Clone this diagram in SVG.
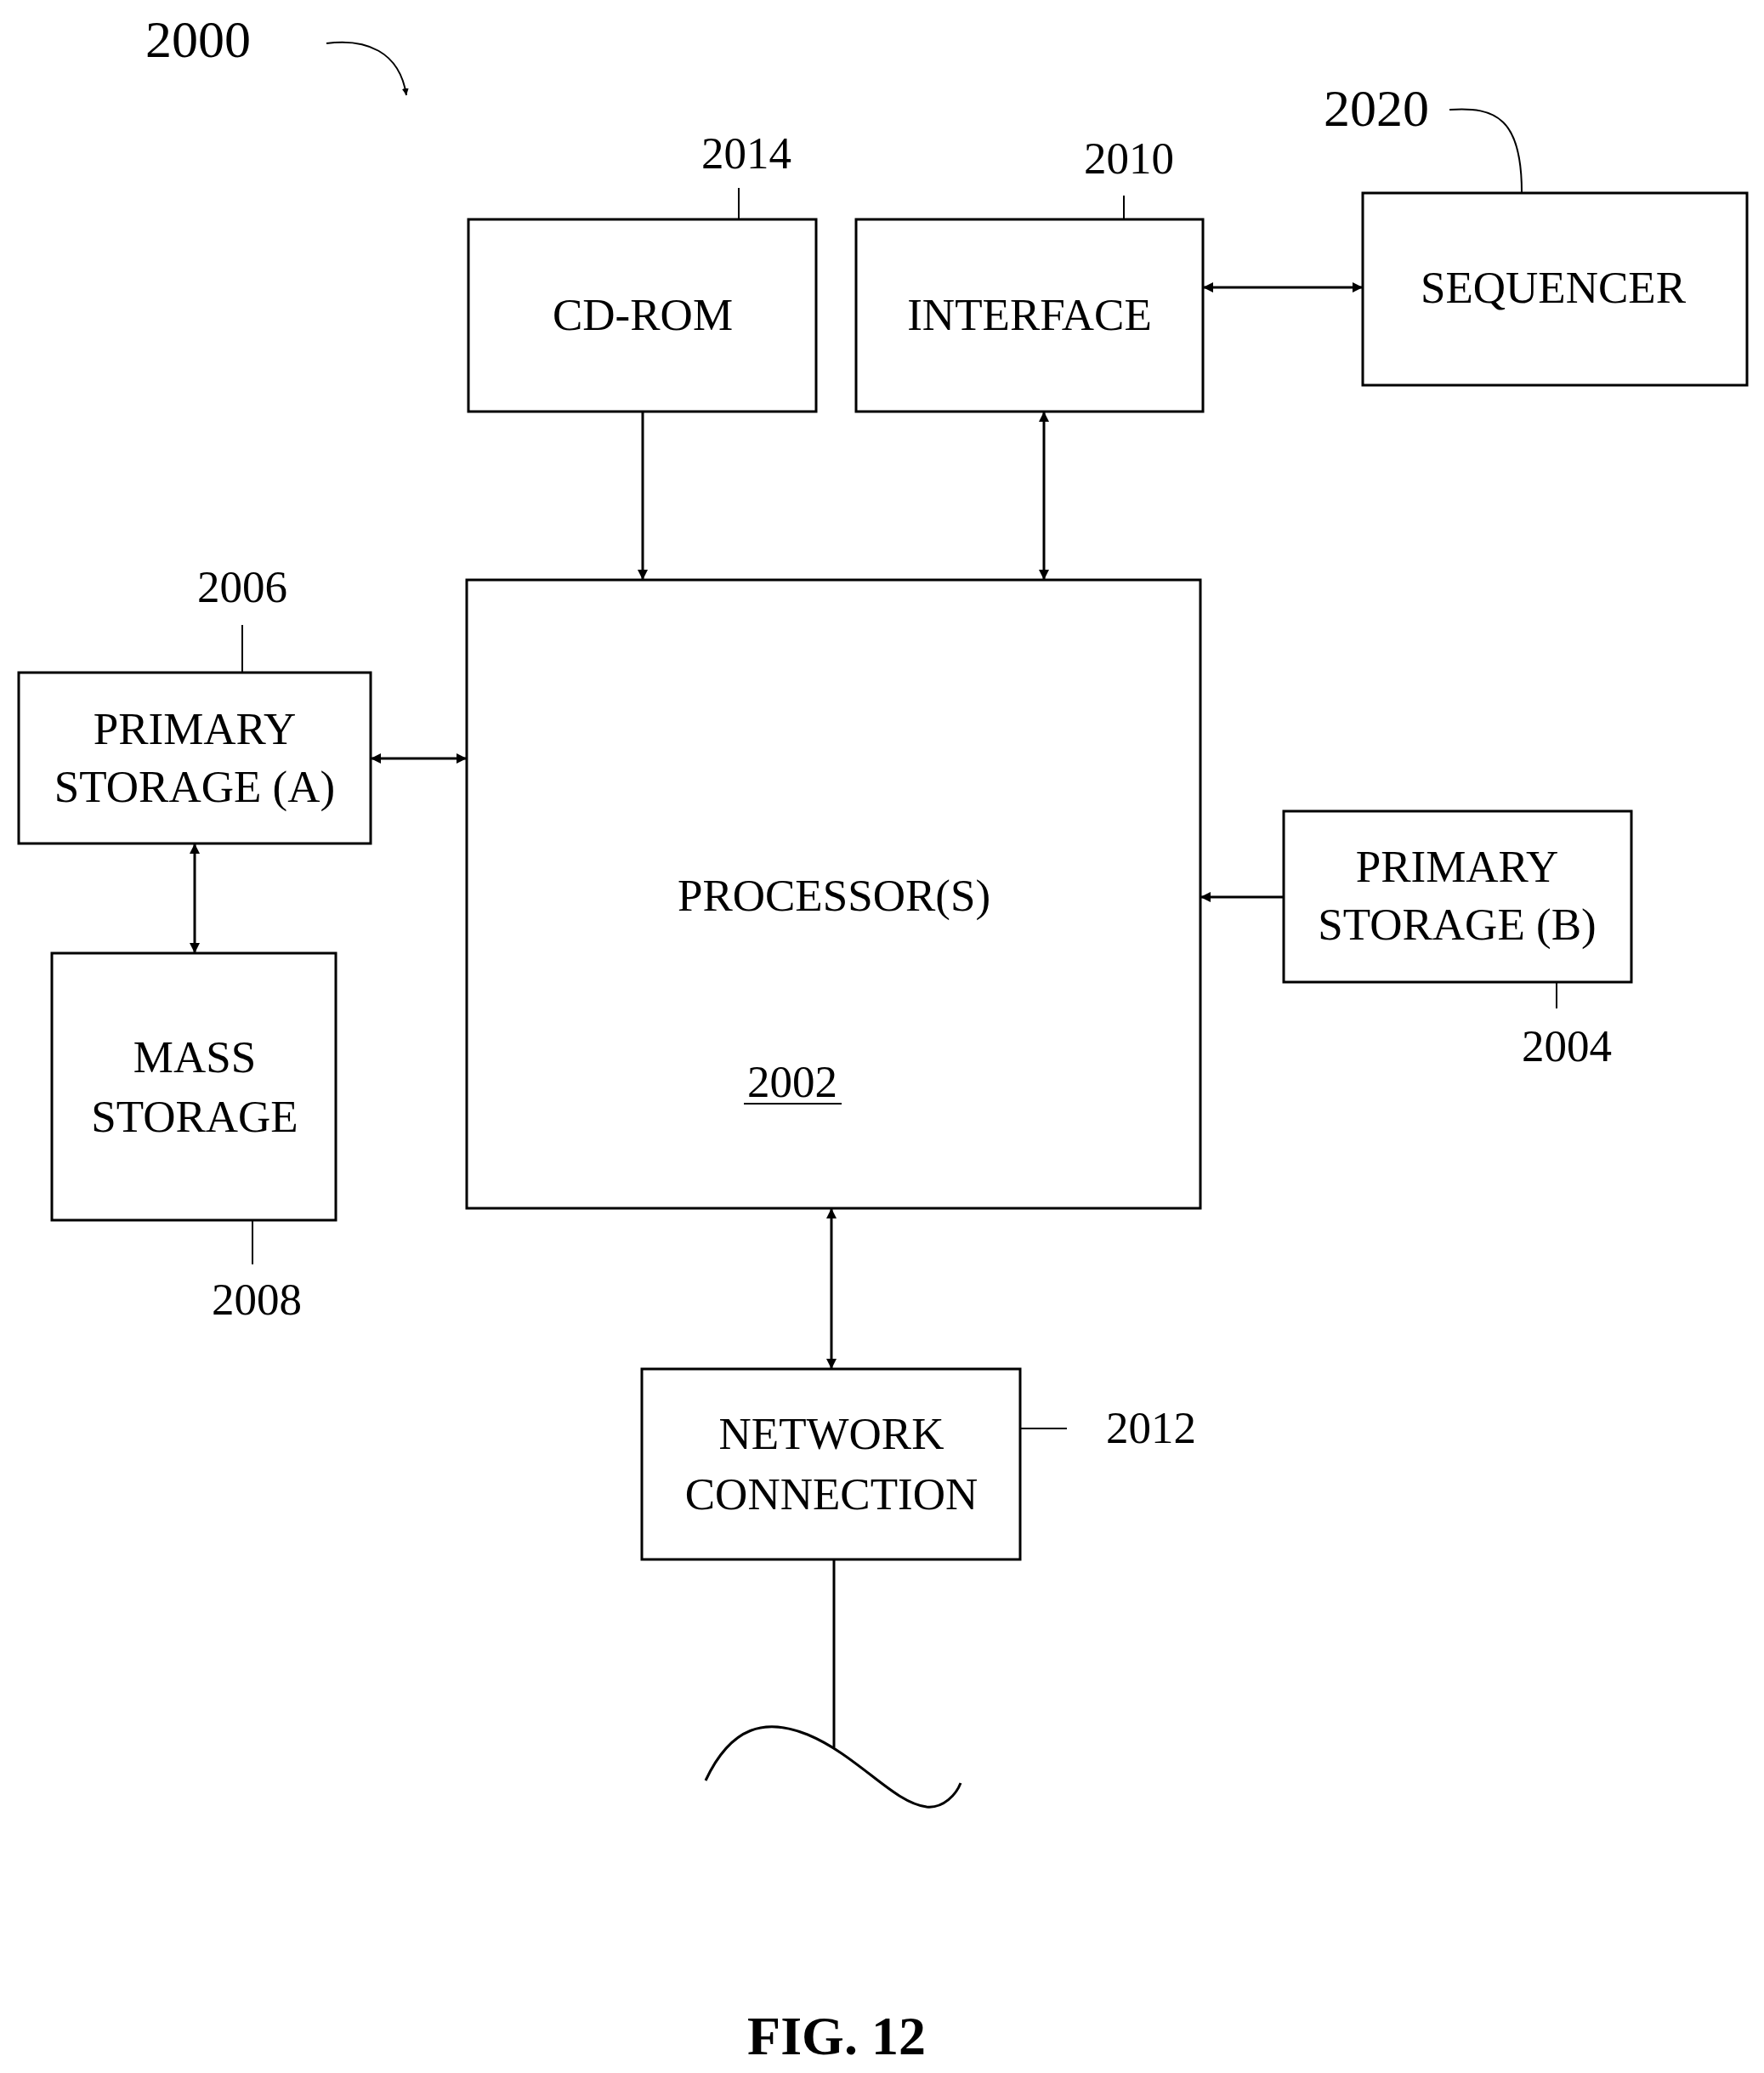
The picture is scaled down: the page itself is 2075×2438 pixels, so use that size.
<svg xmlns="http://www.w3.org/2000/svg" width="2075" height="2438" viewBox="0 0 2075 2438">
<style>
.b{fill:none;stroke:#000;stroke-width:3}
.l{fill:none;stroke:#000;stroke-width:2}
.c{fill:none;stroke:#000;stroke-width:3}
text{font-family:"Liberation Serif","Times New Roman",serif;font-size:53px;fill:#000;text-anchor:middle}
</style>
<defs>
<marker id="a" viewBox="0 0 10 10" refX="10" refY="5" markerWidth="12" markerHeight="12" markerUnits="userSpaceOnUse" orient="auto-start-reverse"><path d="M0,0 L10,5 L0,10 z" fill="#000"/></marker>
<marker id="s" viewBox="0 0 10 10" refX="10" refY="5" markerWidth="8" markerHeight="8" markerUnits="userSpaceOnUse" orient="auto"><path d="M0,0 L10,5 L0,10 z" fill="#000"/></marker>
</defs>
<rect width="2075" height="2438" fill="#fff"/>
<g id="fig2000"><text x="233" y="67" style="font-size:62px">2000</text><path class="l" d="M384,51 C430,45 470,60 478,112" marker-end="url(#s)"/></g>
<g id="cdrom"><rect class="b" x="551" y="258" width="409" height="226"/><text x="756" y="388">CD-ROM</text><text x="878" y="198">2014</text><line class="l" x1="869" y1="221" x2="869" y2="258"/></g>
<g id="interface"><rect class="b" x="1007" y="258" width="408" height="226"/><text x="1211" y="388">INTERFACE</text><text x="1328" y="204">2010</text><line class="l" x1="1322" y1="230" x2="1322" y2="258"/></g>
<g id="sequencer"><rect class="b" x="1603" y="227" width="452" height="226"/><text x="1827" y="356">SEQUENCER</text><text x="1619" y="148" style="font-size:62px">2020</text><path class="l" d="M1705,129 C1760,125 1790,140 1790,226"/></g>
<g id="processor"><rect class="b" x="549" y="682" width="863" height="739"/><text x="981" y="1071">PROCESSOR(S)</text><text x="932" y="1290">2002</text><line class="l" x1="875" y1="1298" x2="990" y2="1298"/></g>
<g id="primA"><rect class="b" x="22" y="791" width="414" height="201"/><text x="229" y="875">PRIMARY</text><text x="229" y="943">STORAGE (A)</text><text x="285" y="708">2006</text><line class="l" x1="285" y1="735" x2="285" y2="791"/></g>
<g id="mass"><rect class="b" x="61" y="1121" width="334" height="314"/><text x="229" y="1261">MASS</text><text x="229" y="1331">STORAGE</text><text x="302" y="1546">2008</text><line class="l" x1="297" y1="1435" x2="297" y2="1487"/></g>
<g id="primB"><rect class="b" x="1510" y="954" width="409" height="201"/><text x="1714" y="1037">PRIMARY</text><text x="1714" y="1105">STORAGE (B)</text><text x="1843" y="1248">2004</text><line class="l" x1="1831" y1="1155" x2="1831" y2="1186"/></g>
<g id="network"><rect class="b" x="755" y="1610" width="445" height="224"/><text x="978" y="1704">NETWORK</text><text x="978" y="1775">CONNECTION</text><text x="1354" y="1697">2012</text><line class="l" x1="1200" y1="1680" x2="1255" y2="1680"/></g>
<g id="connectors">
<line class="c" x1="756" y1="484" x2="756" y2="682" marker-end="url(#a)"/>
<line class="c" x1="1228" y1="484" x2="1228" y2="682" marker-start="url(#a)" marker-end="url(#a)"/>
<line class="c" x1="1415" y1="338" x2="1603" y2="338" marker-start="url(#a)" marker-end="url(#a)"/>
<line class="c" x1="436" y1="892" x2="549" y2="892" marker-start="url(#a)" marker-end="url(#a)"/>
<line class="c" x1="229" y1="992" x2="229" y2="1121" marker-start="url(#a)" marker-end="url(#a)"/>
<line class="c" x1="1510" y1="1055" x2="1412" y2="1055" marker-end="url(#a)"/>
<line class="c" x1="978" y1="1421" x2="978" y2="1610" marker-start="url(#a)" marker-end="url(#a)"/>
<line class="c" x1="981" y1="1834" x2="981" y2="2055"/>
<path class="c" d="M830,2094 C860,2030 900,2020 950,2040 C1010,2065 1050,2120 1090,2125 C1110,2127 1125,2110 1130,2097"/>
</g>
<text x="984" y="2416" style="font-size:64px;font-weight:bold">FIG. 12</text>
</svg>
